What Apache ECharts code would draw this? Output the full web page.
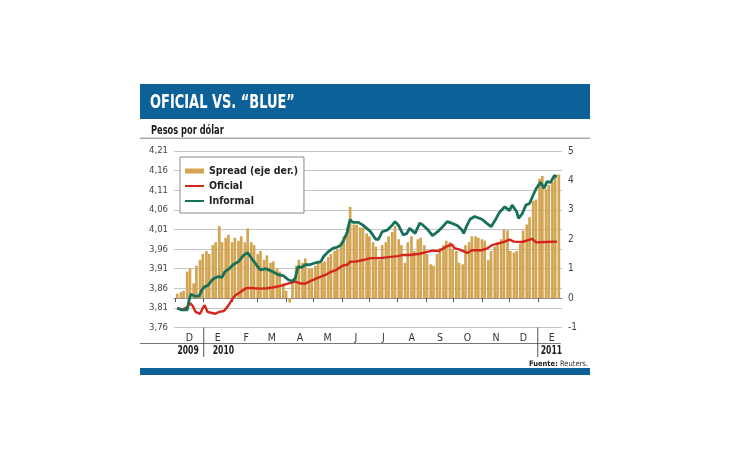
<!DOCTYPE html>
<html>
<head>
<meta charset="utf-8">
<script src="https://cdn.jsdelivr.net/npm/echarts@6/dist/echarts.min.js"></script>
<style>
html, body { margin: 0; padding: 0; background: #fff; }
#chart { width: 730px; height: 460px; }
</style>
</head>
<body>
<div id="chart"></div>
<script>
var FONT = "'Liberation Sans Narrow', 'DejaVu Sans Condensed', sans-serif";
var monthLetters = ['E', 'F', 'M', 'A', 'M', 'J', 'J', 'A', 'S', 'O', 'N', 'D'];
var leftTicks = [3.76, 4.21, 0.05];   // min, max, step (pesos)
var rightTicks = [-1, 5, 1];          // min, max, step (spread %)
var years = ['2009', '2010', '2011'];

// spread bars: two readings per week (monday, thursday)
var weeks = ['2009-11-30', '2009-12-07', '2009-12-14', '2009-12-21', '2009-12-28',
  '2010-01-04', '2010-01-11', '2010-01-18', '2010-01-25', '2010-02-01', '2010-02-08',
  '2010-02-15', '2010-02-22', '2010-03-01', '2010-03-08', '2010-03-15', '2010-03-22',
  '2010-03-29', '2010-04-05', '2010-04-12', '2010-04-19', '2010-04-26', '2010-05-03',
  '2010-05-10', '2010-05-17', '2010-05-24', '2010-05-31', '2010-06-07', '2010-06-14',
  '2010-06-21', '2010-06-28', '2010-07-05', '2010-07-12', '2010-07-19', '2010-07-26',
  '2010-08-02', '2010-08-09', '2010-08-16', '2010-08-23', '2010-08-30', '2010-09-06',
  '2010-09-13', '2010-09-20', '2010-09-27', '2010-10-04', '2010-10-11', '2010-10-18',
  '2010-10-25', '2010-11-01', '2010-11-08', '2010-11-15', '2010-11-22', '2010-11-29',
  '2010-12-06', '2010-12-13', '2010-12-20', '2010-12-27', '2011-01-03', '2011-01-10',
  '2011-01-17', '2011-01-24'];
var spreadMon = [null, 0.2, 0.9, 0.5, 1.3,
  1.6, 1.8, 2.45, 2.05, 1.9, 1.95,
  1.9, 1.9, 1.5, 1.3, 1.2, 1.0,
  0.5, -0.15, 1.1, 1.2, 1.0, 1.1,
  1.2, 1.4, 1.6, 1.9, 2.4, 2.5,
  2.4, 2.2, 1.9, 1.3, 1.9, 2.25,
  2.0, 1.2, 2.1, 2.0, 1.8, 1.15,
  1.5, 1.8, 1.9, 1.6, 1.15, 1.9,
  2.1, 2.0, 1.3, 1.75, 2.0, 2.3,
  1.55, 1.85, 2.5, 3.3, 4.05, 3.7,
  3.95, 4.2];
var spreadThu = [0.15, 0.25, 1.0, 1.1, 1.5,
  1.5, 1.9, 1.9, 2.15, 2.05, 2.1,
  2.37, 1.8, 1.6, 1.45, 1.25, 0.9,
  0.25, 0.5, 1.3, 1.35, 1.0, 1.2,
  1.25, 1.5, 1.65, 2.1, 3.1, 2.5,
  2.4, 2.1, 1.75, 1.8, 2.1, 2.45,
  1.8, 1.9, 1.6, 2.05, 1.5, 1.1,
  1.7, 1.95, 1.65, 1.2, 1.8, 2.1,
  2.05, 1.95, 1.6, 1.9, 2.35, 1.6,
  1.6, 2.3, 2.75, 3.35, 4.15, 3.85,
  4.15, null];

// informal ("blue") rate
var informalDates = ['2009-12-03', '2009-12-08', '2009-12-14', '2009-12-16', '2009-12-18',
  '2009-12-22', '2009-12-27', '2009-12-30', '2010-01-02', '2010-01-06', '2010-01-10',
  '2010-01-13', '2010-01-17', '2010-01-21', '2010-01-24', '2010-01-29', '2010-02-02',
  '2010-02-08', '2010-02-11', '2010-02-14', '2010-02-18', '2010-02-22', '2010-02-25',
  '2010-03-01', '2010-03-04', '2010-03-10', '2010-03-13', '2010-03-17', '2010-03-24',
  '2010-03-29', '2010-04-04', '2010-04-08', '2010-04-11', '2010-04-14', '2010-04-18',
  '2010-04-22', '2010-04-27', '2010-05-03', '2010-05-09', '2010-05-12', '2010-05-17',
  '2010-05-22', '2010-05-27', '2010-05-31', '2010-06-03', '2010-06-07', '2010-06-08',
  '2010-06-10', '2010-06-13', '2010-06-19', '2010-06-24', '2010-07-02', '2010-07-08',
  '2010-07-11', '2010-07-15', '2010-07-21', '2010-07-26', '2010-07-29', '2010-08-02',
  '2010-08-07', '2010-08-11', '2010-08-14', '2010-08-20', '2010-08-25', '2010-08-28',
  '2010-09-03', '2010-09-08', '2010-09-14', '2010-09-19', '2010-09-24', '2010-09-29',
  '2010-10-05', '2010-10-10', '2010-10-12', '2010-10-15', '2010-10-19', '2010-10-24',
  '2010-11-01', '2010-11-06', '2010-11-11', '2010-11-17', '2010-11-20', '2010-11-26',
  '2010-12-01', '2010-12-04', '2010-12-09', '2010-12-11', '2010-12-15', '2010-12-19',
  '2010-12-23', '2010-12-26', '2010-12-30', '2011-01-04', '2011-01-08', '2011-01-11',
  '2011-01-15', '2011-01-19', '2011-01-22'];
var informal = [3.809, 3.805, 3.805, 3.83, 3.845,
  3.84, 3.84, 3.856, 3.864, 3.868, 3.881,
  3.886, 3.89, 3.888, 3.902, 3.91, 3.92,
  3.928, 3.937, 3.945, 3.951, 3.937, 3.928,
  3.915, 3.907, 3.91, 3.907, 3.903, 3.894,
  3.892, 3.881, 3.878, 3.886, 3.915, 3.913,
  3.92, 3.92, 3.925, 3.928, 3.941, 3.953,
  3.962, 3.965, 3.97, 3.983, 4.004, 4.017,
  4.035, 4.028, 4.028, 4.021, 4.005, 3.985,
  3.985, 4.004, 4.009, 4.021, 4.03, 4.02,
  3.996, 4.0, 4.013, 4.0, 4.026, 4.022,
  4.009, 3.994, 4.005, 4.017, 4.03, 4.026,
  4.02, 4.009, 4.0, 4.017, 4.036, 4.043,
  4.036, 4.026, 4.017, 4.04, 4.053, 4.068,
  4.058, 4.072, 4.055, 4.038, 4.05, 4.072,
  4.076, 4.092, 4.113, 4.13, 4.115, 4.132,
  4.13, 4.147, 4.145];

// official rate
var oficialDates = ['2009-12-03', '2009-12-09', '2009-12-14', '2009-12-17', '2009-12-20',
  '2009-12-23', '2009-12-28', '2009-12-31', '2010-01-02', '2010-01-05', '2010-01-10',
  '2010-01-14', '2010-01-18', '2010-01-23', '2010-01-26', '2010-01-29', '2010-02-02',
  '2010-02-05', '2010-02-11', '2010-02-16', '2010-02-22', '2010-02-26', '2010-03-04',
  '2010-03-12', '2010-03-17', '2010-03-26', '2010-04-03', '2010-04-08', '2010-04-11',
  '2010-04-17', '2010-04-22', '2010-04-30', '2010-05-07', '2010-05-14', '2010-05-20',
  '2010-05-26', '2010-06-02', '2010-06-07', '2010-06-10', '2010-06-16', '2010-06-24',
  '2010-07-02', '2010-07-13', '2010-07-24', '2010-08-01', '2010-08-07', '2010-08-14',
  '2010-08-25', '2010-09-02', '2010-09-08', '2010-09-15', '2010-09-23', '2010-09-29',
  '2010-10-02', '2010-10-07', '2010-10-16', '2010-10-21', '2010-11-01', '2010-11-07',
  '2010-11-12', '2010-11-18', '2010-11-26', '2010-12-01', '2010-12-06', '2010-12-15',
  '2010-12-26', '2010-12-30', '2011-01-08', '2011-01-22'];
var oficial = [3.809, 3.806, 3.812, 3.822, 3.815,
  3.80, 3.795, 3.81, 3.817, 3.80, 3.797,
  3.795, 3.80, 3.802, 3.81, 3.82, 3.835,
  3.843, 3.852, 3.86, 3.861, 3.86, 3.859,
  3.86, 3.862, 3.866, 3.872, 3.875, 3.877,
  3.872, 3.872, 3.881, 3.888, 3.894, 3.902,
  3.907, 3.918, 3.92, 3.928, 3.928, 3.932,
  3.937, 3.937, 3.94, 3.942, 3.945, 3.945,
  3.948, 3.953, 3.956, 3.955, 3.966, 3.972,
  3.962, 3.959, 3.95, 3.957, 3.957, 3.962,
  3.97, 3.974, 3.979, 3.984, 3.979, 3.978,
  3.986, 3.977, 3.978, 3.979];

var GOLD = '#d3a552';
var RED = '#d6251c';
var TEAL = '#17705a';
var BLUE = '#0c6198';

function pair(dates, vals) {
  var out = [];
  for (var i = 0; i < dates.length; i++) out.push([dates[i], vals[i]]);
  return out;
}

function plusDays(s, n) {
  var d = new Date(s + 'T00:00:00Z');
  d.setUTCDate(d.getUTCDate() + n);
  return d.toISOString().slice(0, 10);
}

var spreadData = [];
for (var i = 0; i < weeks.length; i++) {
  if (spreadMon[i] !== null) spreadData.push([weeks[i], spreadMon[i]]);
  if (spreadThu[i] !== null) spreadData.push([plusDays(weeks[i], 3), spreadThu[i]]);
}

var chart = echarts.init(document.getElementById('chart'));

var DAY = 86400000;

chart.setOption({
  animation: false,
  backgroundColor: '#fff',
  textStyle: { fontFamily: FONT },
  grid: { left: 174, right: 168, top: 151, bottom: 132.5, containLabel: false },
  legend: {
    orient: 'vertical',
    left: 180, top: 157,
    backgroundColor: '#fff',
    borderColor: '#8a8a8a', borderWidth: 1,
    padding: [7, 6, 5, 5],
    itemWidth: 19, itemHeight: 5, itemGap: 1,
    textStyle: { fontFamily: FONT, fontSize: 10.5, fontWeight: 'bold', color: '#222', lineHeight: 14 },
    data: [
      { name: 'Spread (eje der.)', icon: 'path://M0 0H19V5H0Z' },
      { name: 'Oficial', icon: 'path://M0 0H19V2H0Z' },
      { name: 'Informal', icon: 'path://M0 0H19V2H0Z' }
    ]
  },
  xAxis: {
    type: 'time',
    min: '2009-12-01', max: '2011-01-26',
    minInterval: 28 * DAY, maxInterval: 31 * DAY,
    splitNumber: 14,
    axisLine: { lineStyle: { color: '#8c8c8c', width: 1 } },
    axisTick: { show: true, length: 4, lineStyle: { color: '#555' } },
    splitLine: { show: false },
    axisLabel: {
      fontFamily: FONT, fontSize: 10.5, color: '#333', margin: 5,
      padding: [0, 0, 0, 28],
      showMaxLabel: false,
      formatter: function (v) { return monthLetters[new Date(v).getMonth()]; }
    }
  },
  yAxis: [{
    type: 'value',
    min: leftTicks[0], max: leftTicks[1], interval: leftTicks[2],
    axisLine: { show: false },
    axisTick: { show: false },
    splitLine: { lineStyle: { color: '#c4c4c4', width: 1 } },
    axisLabel: {
      fontFamily: FONT, fontSize: 9.5, color: '#444', margin: 6,
      formatter: function (v) { return v.toFixed(2).replace('.', ','); }
    }
  }, {
    type: 'value',
    min: rightTicks[0], max: rightTicks[1], interval: rightTicks[2],
    axisLine: { show: false },
    axisTick: { show: false },
    splitLine: { show: false },
    axisLabel: {
      fontFamily: FONT, fontSize: 10, color: '#444', margin: 6,
      padding: [0, 0, 6, 0]
    }
  }],
  series: [{
    name: 'Spread (eje der.)',
    type: 'bar',
    yAxisIndex: 1,
    barWidth: 2.7,
    itemStyle: { color: GOLD },
    data: spreadData
  }, {
    name: 'Oficial',
    type: 'line',
    showSymbol: false,
    itemStyle: { color: RED },
    lineStyle: { color: RED, width: 2.4 },
    data: pair(oficialDates, oficial)
  }, {
    name: 'Informal',
    type: 'line',
    showSymbol: false,
    itemStyle: { color: TEAL },
    lineStyle: { color: TEAL, width: 2.8 },
    data: pair(informalDates, informal)
  }]
});

// year row under the month axis, tied to the axis scale
var x2010 = chart.convertToPixel({ xAxisIndex: 0 }, '2010-01-01');
var x2011 = chart.convertToPixel({ xAxisIndex: 0 }, '2011-01-01');
var xEnd = chart.convertToPixel({ xAxisIndex: 0 }, '2011-01-26');
var yAxisLine = chart.convertToPixel({ yAxisIndex: 0 }, leftTicks[0]);

function narrowText(x, y, text, size, sx, fill, align) {
  return {
    type: 'text', x: x, y: y, scaleX: sx,
    style: { text: text, fill: fill, font: 'bold ' + size + 'px ' + FONT, align: align || 'left', verticalAlign: 'middle' }
  };
}

chart.setOption({
  graphic: [
    { type: 'rect', shape: { x: 140, y: 84, width: 450, height: 35 }, style: { fill: BLUE } },
    narrowText(150, 103, 'OFICIAL VS. \u201cBLUE\u201d', 19.5, 0.74, '#fff'),
    narrowText(151, 131, 'Pesos por d\u00f3lar', 11.5, 0.8, '#1a1a1a'),
    { type: 'rect', shape: { x: 140, y: 137.5, width: 450, height: 1.5 }, style: { fill: '#a9a9a9' } },
    { type: 'line', shape: { x1: 140, y1: 343.5, x2: xEnd, y2: 343.5 }, style: { stroke: '#777', lineWidth: 1 } },
    { type: 'line', shape: { x1: x2010, y1: yAxisLine, x2: x2010, y2: 357 }, style: { stroke: '#555', lineWidth: 1 } },
    { type: 'line', shape: { x1: x2011, y1: yAxisLine, x2: x2011, y2: 357 }, style: { stroke: '#555', lineWidth: 1 } },
    narrowText(x2010 - 5, 351, years[0], 11.5, 0.74, '#1a1a1a', 'right'),
    narrowText(x2010 + 9, 351, years[1], 11.5, 0.74, '#1a1a1a'),
    narrowText(x2011 + 3, 351, years[2], 11.5, 0.74, '#1a1a1a'),
    { type: 'text', x: 588, y: 364, style: {
        text: '{b|Fuente:} Reuters.', align: 'right', verticalAlign: 'middle',
        font: '7.5px ' + FONT, fill: '#333',
        rich: { b: { fontWeight: 'bold', fontSize: 7.5, fontFamily: FONT, fill: '#222' } }
    } },
    { type: 'rect', shape: { x: 140, y: 368, width: 450, height: 7 }, style: { fill: BLUE } }
  ]
});
</script>
</body>
</html>
